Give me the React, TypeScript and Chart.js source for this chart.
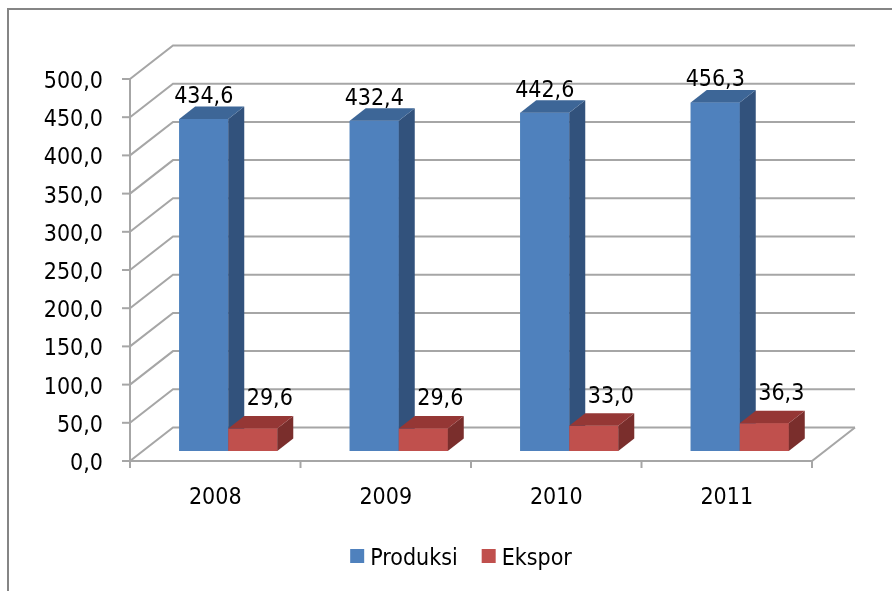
import { useEffect, useRef } from 'react';
import { Chart, registerables } from 'chart.js';

Chart.register(...registerables);

// ---------- data ----------
const categories = ['2008', '2009', '2010', '2011'];
const produksi = [434.6, 432.4, 442.6, 456.3];
const ekspor = [29.6, 29.6, 33.0, 36.3];
const seriesNames = ['Produksi', 'Ekspor'];
const yMin = 0;
const yMax = 500;
const yStep = 50;

// ---------- style ----------
const FONT = "'DejaVu Sans Condensed', 'DejaVu Sans', Tahoma, sans-serif";
const FONT_SIZE = 23;
const COLORS = [
  { front: '#4F81BD', top: '#3D6697', side: '#32527C' },
  { front: '#C0504D', top: '#953735', side: '#7A2E2C' },
];
const GRID = '#A6A6A6';
const FRONT = { dx: -13, dy: 10 };
const BACK = { dx: 30, dy: -23.5 };
const DEPTH = { dx: 16, dy: -12.5 };
const LABEL_OFF = [
  { dx: 0, dy: -16 },
  { dx: 17, dy: -23 },
];

const fmt = (v: number) => v.toFixed(1).replace('.', ',');

const threeD = {
  id: 'threeD',
  beforeDraw(chart: any) {
    const ctx = chart.ctx;
    ctx.save();
    ctx.fillStyle = '#ffffff';
    ctx.fillRect(0, 0, chart.width, chart.height);
    ctx.strokeStyle = '#858585';
    ctx.lineWidth = 2;
    ctx.beginPath();
    ctx.moveTo(8, chart.height + 2);
    ctx.lineTo(8, 9);
    ctx.lineTo(chart.width + 2, 9);
    ctx.stroke();
    ctx.restore();
  },
  beforeDatasetsDraw(chart: any) {
    const { ctx, chartArea, scales } = chart;
    const L = chartArea.left;
    const R = chartArea.right;
    const y = scales.y;
    const x = scales.x;
    ctx.save();
    ctx.strokeStyle = GRID;
    ctx.lineWidth = 2;
    ctx.lineJoin = 'miter';
    for (let v = yMin; v <= yMax; v += yStep) {
      const py = y.getPixelForValue(v);
      ctx.beginPath();
      ctx.moveTo(L + FRONT.dx, py + FRONT.dy);
      ctx.lineTo(L + BACK.dx, py + BACK.dy);
      ctx.lineTo(R + BACK.dx, py + BACK.dy);
      ctx.stroke();
      ctx.beginPath();
      ctx.moveTo(L + FRONT.dx - 8, py + FRONT.dy);
      ctx.lineTo(L + FRONT.dx, py + FRONT.dy);
      ctx.stroke();
    }
    const y0 = y.getPixelForValue(yMin);
    const y1 = y.getPixelForValue(yMax);
    ctx.beginPath();
    ctx.moveTo(L + FRONT.dx, y0 + FRONT.dy);
    ctx.lineTo(L + FRONT.dx, y1 + FRONT.dy);
    ctx.stroke();
    ctx.beginPath();
    ctx.moveTo(L + FRONT.dx, y0 + FRONT.dy);
    ctx.lineTo(R + FRONT.dx, y0 + FRONT.dy);
    ctx.lineTo(R + BACK.dx, y0 + BACK.dy);
    ctx.stroke();
    const n = categories.length;
    const cw = n > 1 ? x.getPixelForValue(1) - x.getPixelForValue(0) : R - L;
    for (let i = 0; i <= n; i++) {
      const px = x.getPixelForValue(0) - cw / 2 + i * cw + FRONT.dx;
      ctx.beginPath();
      ctx.moveTo(px, y0 + FRONT.dy);
      ctx.lineTo(px, y0 + FRONT.dy + 7);
      ctx.stroke();
    }
    ctx.restore();
  },
  afterDatasetsDraw(chart: any) {
    const ctx = chart.ctx;
    ctx.save();
    chart.data.datasets.forEach((_ds: any, d: number) => {
      const meta = chart.getDatasetMeta(d);
      if (meta.hidden) return;
      const c = COLORS[d];
      meta.data.forEach((el: any) => {
        el.draw(ctx);
        const { x, y, base, width } = el.getProps(['x', 'y', 'base', 'width'], true);
        const l = x - width / 2;
        const r = x + width / 2;
        ctx.fillStyle = c.side;
        ctx.beginPath();
        ctx.moveTo(r, y);
        ctx.lineTo(r + DEPTH.dx, y + DEPTH.dy);
        ctx.lineTo(r + DEPTH.dx, base + DEPTH.dy);
        ctx.lineTo(r, base);
        ctx.closePath();
        ctx.fill();
        ctx.fillStyle = c.top;
        ctx.beginPath();
        ctx.moveTo(l, y);
        ctx.lineTo(l + DEPTH.dx, y + DEPTH.dy);
        ctx.lineTo(r + DEPTH.dx, y + DEPTH.dy);
        ctx.lineTo(r, y);
        ctx.closePath();
        ctx.fill();
      });
    });
    ctx.restore();
  },
  afterDraw(chart: any) {
    const ctx = chart.ctx;
    ctx.save();
    ctx.font = `${FONT_SIZE}px ${FONT}`;
    ctx.fillStyle = '#000000';
    ctx.textAlign = 'center';
    ctx.textBaseline = 'alphabetic';
    chart.data.datasets.forEach((ds: any, d: number) => {
      const meta = chart.getDatasetMeta(d);
      const off = LABEL_OFF[d];
      meta.data.forEach((el: any, i: number) => {
        const { x, y } = el.getProps(['x', 'y'], true);
        ctx.fillText(fmt(ds.data[i]), x + off.dx, y + off.dy);
      });
    });
    const box = 14;
    const gapBoxText = 6;
    const gapItems = 24;
    const widths = seriesNames.map((s) => ctx.measureText(s).width);
    const total = widths.reduce((a, w) => a + box + gapBoxText + w, 0) + gapItems * (seriesNames.length - 1);
    let lx = 461 - total / 2;
    const baseline = 565;
    ctx.textAlign = 'left';
    seriesNames.forEach((s, i) => {
      ctx.fillStyle = COLORS[i].front;
      ctx.fillRect(lx, 549, box, box);
      lx += box + gapBoxText;
      ctx.fillStyle = '#000000';
      ctx.fillText(s, lx, baseline);
      lx += widths[i] + gapItems;
    });
    ctx.restore();
  },
};

export default function App() {
  const ref = useRef<HTMLCanvasElement | null>(null);
  useEffect(() => {
    if (!ref.current) return;
    Chart.defaults.font.family = FONT;
    Chart.defaults.font.size = FONT_SIZE;
    Chart.defaults.color = '#000000';
    const chart = new Chart(ref.current, {
      type: 'bar',
      data: {
        labels: categories,
        datasets: [
          {
            label: seriesNames[0],
            data: produksi,
            backgroundColor: COLORS[0].front,
            borderWidth: 0,
            barPercentage: 1,
            categoryPercentage: 0.575,
          },
          {
            label: seriesNames[1],
            data: ekspor,
            backgroundColor: COLORS[1].front,
            borderWidth: 0,
            barPercentage: 1,
            categoryPercentage: 0.575,
          },
        ],
      },
      options: {
        responsive: false,
        animation: false,
        devicePixelRatio: 1,
        layout: { padding: { left: 8, right: 67, top: 69, bottom: 0 } },
        plugins: {
          legend: { display: false },
          tooltip: { enabled: false },
        },
        scales: {
          x: {
            grid: { display: false, drawTicks: false },
            border: { display: false },
            ticks: {
              font: { size: FONT_SIZE, family: FONT },
              color: '#000000',
              padding: 33,
              labelOffset: FRONT.dx,
              maxRotation: 0,
            },
            afterFit: (s: any) => {
              s.height = 140;
            },
          },
          y: {
            min: yMin,
            max: yMax,
            grid: { display: false, drawTicks: false },
            border: { display: false },
            ticks: {
              stepSize: yStep,
              font: { size: FONT_SIZE, family: FONT },
              color: '#000000',
              padding: 40,
              labelOffset: 13,
              callback: (v: any) => fmt(Number(v)),
            },
            afterFit: (s: any) => {
              s.width = 135;
            },
          },
        },
      },
      plugins: [threeD],
    });
    return () => chart.destroy();
  }, []);
  return (
    <div style={{ position: 'absolute', left: 0, top: 0, width: 892, height: 591 }}>
      <canvas ref={ref} width={892} height={591} style={{ display: 'block' }} />
    </div>
  );
}
